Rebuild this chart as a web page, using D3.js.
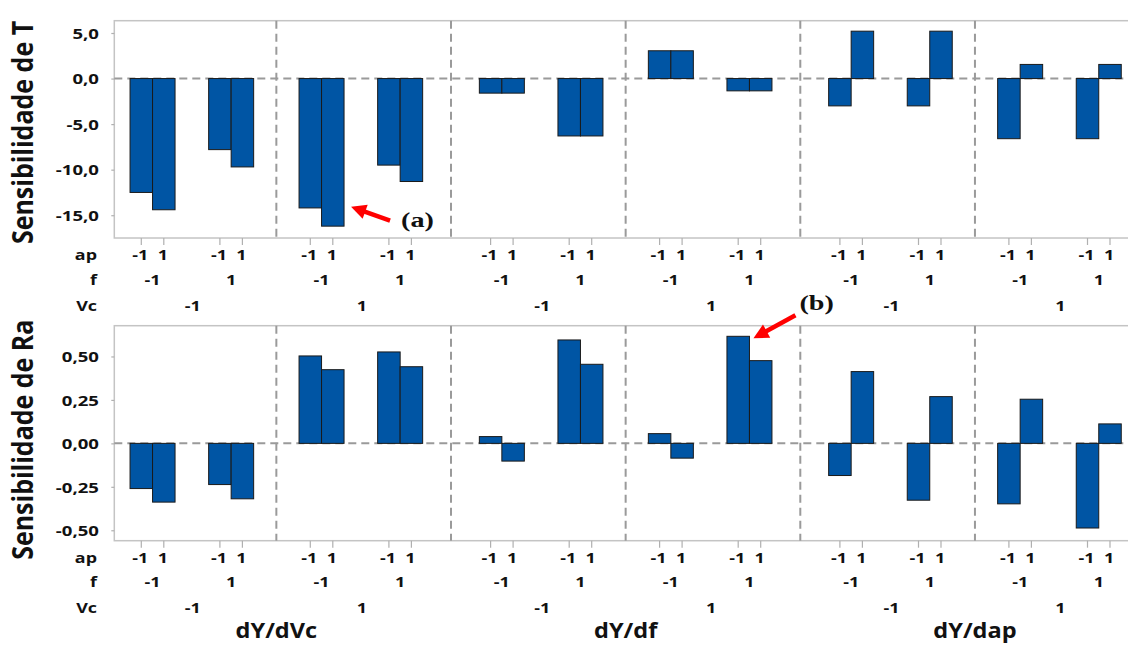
<!DOCTYPE html>
<html>
<head>
<meta charset="utf-8">
<script src="https://cdn.jsdelivr.net/npm/d3@7/dist/d3.min.js"></script>
<style>
  html, body { margin: 0; padding: 0; background: #fff; }
  svg { display: block; }
  text { font-family: "Open Sans", "Noto Sans", sans-serif; font-weight: 700; fill: #111; }
</style>
</head>
<body>
<svg id="chart" width="1128" height="648"></svg>
<script>
// Sensitivity of cutting temperature (T) and roughness (Ra) to each factor,
// evaluated at every corner of the Vc / f / ap design.
const derivatives = ["dY/dVc", "dY/df", "dY/dap"];
const levels = [-1, 1];                       // coded factor levels
const levelLabels = ["-1", "1"];

// order: derivative > Vc > f > ap
const sensT = [
  -12.5, -14.4,  -7.8,  -9.7,  -14.2, -16.2,  -9.5, -11.3,
   -1.6,  -1.6,  -6.3,  -6.3,    3.05,  3.05, -1.35, -1.35,
   -3.0,   5.2,  -3.0,   5.2,   -6.6,   1.55, -6.6,   1.55
];
const sensRa = [
  -0.26,  -0.338, -0.237, -0.319,   0.503, 0.424,  0.526, 0.441,
   0.039, -0.102,  0.595,  0.455,   0.056, -0.085, 0.616, 0.476,
  -0.185,  0.413, -0.327,  0.269,  -0.348, 0.254, -0.487, 0.112
];
const ticksT = [5, 0, -5, -10, -15];
const ticksRa = [0.5, 0.25, 0, -0.25, -0.5];

// Flat list of design points
const design = [];
derivatives.forEach(d => levels.forEach(vc => levels.forEach(f => levels.forEach(ap => {
  design.push({ d, vc, f, ap, i: design.length });
}))));

const svg = d3.select("#chart");
const SX = 1.28;          // horizontal stretch of the label lettering
const plotLeft = 114.3, plotRight = 1140;

// nested horizontal scales
const xDeriv = d3.scaleBand().domain(derivatives).range([101.7, 1149.6]).padding(0);
const xVc = d3.scalePoint().domain(levels).range([-84.5, 84.5]);
const xF = d3.scalePoint().domain(levels).range([-39.3, 39.3]);
const xAp = d3.scaleBand().domain(levels).range([-22.5, 22.5]).padding(0);
const dCenter = d => xDeriv(d) + xDeriv.bandwidth() / 2;
const vcCenter = p => dCenter(p.d) + xVc(p.vc);
const fCenter = p => vcCenter(p) + xF(p.f);
const barX = p => fCenter(p) + xAp(p.ap);
const barCenter = p => barX(p) + xAp.bandwidth() / 2;

const ptBR = d3.formatLocale({ decimal: ",", thousands: ".", grouping: [3], currency: ["R$", ""], minus: "-" });

const panels = [
  { values: sensT, top: 20.7, bottom: 238, domain: [-17.5, 6.35], ticks: ticksT,
    fmt: ptBR.format(".1f"), title: "Sensibilidade de T", titleY: 132.5 },
  { values: sensRa, top: 325.7, bottom: 540.7, domain: [-0.56, 0.677], ticks: ticksRa,
    fmt: ptBR.format(".2f"), title: "Sensibilidade de Ra", titleY: 439.7 }
];

function label(g, x, y, str, size, anchor, sx) {
  return g.append("text")
    .attr("transform", `translate(${x},${y}) scale(${sx || SX},1)`)
    .attr("text-anchor", anchor || "middle")
    .style("font-size", size + "px")
    .text(str);
}

panels.forEach(pn => {
  const g = svg.append("g");
  const y = d3.scaleLinear().domain(pn.domain).range([pn.bottom, pn.top]);
  pn.y = y;

  // frame
  g.append("rect")
    .attr("x", plotLeft).attr("y", pn.top)
    .attr("width", plotRight - plotLeft).attr("height", pn.bottom - pn.top)
    .attr("fill", "none").attr("stroke", "#c4c4c4").attr("stroke-width", 1.5);

  // y axis
  const ax = g.append("g").attr("transform", `translate(${plotLeft},0)`)
    .call(d3.axisLeft(y).tickValues(pn.ticks).tickSize(3).tickPadding(0).tickFormat(pn.fmt));
  ax.select(".domain").remove();
  ax.selectAll(".tick line").attr("stroke", "#b0b0b0").attr("stroke-width", 1.2);
  ax.attr("font-family", null).attr("font-size", null);
  ax.selectAll(".tick text")
    .attr("x", null).attr("dy", null)
    .attr("transform", `translate(-15.3,5.3) scale(1.24,1)`)
    .attr("text-anchor", "end")
    .style("font-size", "15px")
    .attr("fill", "#111");

  // dashed dividers between Vc levels and between derivatives
  const dividers = [];
  derivatives.forEach((d, k) => {
    dividers.push(dCenter(d));
    if (k > 0) dividers.push(xDeriv(d));
  });
  g.selectAll("line.div").data(dividers).join("line")
    .attr("class", "div")
    .attr("x1", d => d).attr("x2", d => d)
    .attr("y1", pn.top).attr("y2", pn.bottom)
    .attr("stroke", "#9a9a9a").attr("stroke-width", 2).attr("stroke-dasharray", "8,5");

  // zero reference
  g.append("line")
    .attr("x1", plotLeft).attr("x2", plotRight)
    .attr("y1", y(0)).attr("y2", y(0))
    .attr("stroke", "#9a9a9a").attr("stroke-width", 2).attr("stroke-dasharray", "8,5");

  // bars
  g.selectAll("rect.bar").data(design).join("rect")
    .attr("class", "bar")
    .attr("x", p => barX(p))
    .attr("width", xAp.bandwidth())
    .attr("y", p => y(Math.max(0, pn.values[p.i])))
    .attr("height", p => Math.abs(y(pn.values[p.i]) - y(0)))
    .attr("fill", "#0055a4").attr("stroke", "#1a1a1a").attr("stroke-width", 1);

  // x tick marks at each ap level
  g.selectAll("line.xt").data(design).join("line")
    .attr("class", "xt")
    .attr("x1", barCenter).attr("x2", barCenter)
    .attr("y1", pn.bottom).attr("y2", pn.bottom + 7)
    .attr("stroke", "#b0b0b0").attr("stroke-width", 1.2);

  // category rows
  const rowAp = pn.bottom + 22, rowF = pn.bottom + 46.5, rowVc = pn.bottom + 72.5;
  label(g, 97, rowAp, "ap", 14, "end");
  label(g, 97, rowF, "f", 14, "end");
  label(g, 97, rowVc, "Vc", 14, "end");
  design.forEach(p => {
    label(g, barCenter(p) - 1, rowAp, levelLabels[levels.indexOf(p.ap)], 14);
    if (p.ap === -1) label(g, fCenter(p), rowF, levelLabels[levels.indexOf(p.f)], 14);
    if (p.ap === -1 && p.f === -1) label(g, vcCenter(p) + 1, rowVc, levelLabels[levels.indexOf(p.vc)], 14);
  });

  // y title
  g.append("text")
    .attr("transform", `translate(33,${pn.titleY}) scale(1.12,1) rotate(-90)`)
    .attr("text-anchor", "middle")
    .style("font-size", "25px")
    .text(pn.title);
});

// derivative names under the lower panel
derivatives.forEach(d => label(svg, dCenter(d), 638, d, 22, "middle", 1.07));

// highlighted design points
function arrow(tail, tip) {
  const dx = tip[0] - tail[0], dy = tip[1] - tail[1];
  const len = Math.hypot(dx, dy), ux = dx / len, uy = dy / len;
  const head = 15, half = 7.5;
  const bx = tip[0] - ux * head, by = tip[1] - uy * head;
  svg.append("line")
    .attr("x1", tail[0]).attr("y1", tail[1]).attr("x2", bx + ux * 2).attr("y2", by + uy * 2)
    .attr("stroke", "#ff0000").attr("stroke-width", 4.5);
  svg.append("path")
    .attr("d", `M${tip[0]},${tip[1]}L${bx - uy * half},${by + ux * half}L${bx + uy * half},${by - ux * half}Z`)
    .attr("fill", "#ff0000");
}
function note(x, y, str) {
  svg.append("text")
    .attr("transform", `translate(${x},${y}) scale(${SX},1)`)
    .attr("text-anchor", "start")
    .style("font-family", "'Liberation Serif', 'Times New Roman', serif")
    .style("font-size", "22px")
    .text(str);
}

// (a): deepest temperature sensitivity, dY/dVc at Vc=1, f=-1, ap=1
const pA = design.find(p => p.d === "dY/dVc" && p.vc === 1 && p.f === -1 && p.ap === 1);
const aRight = barX(pA) + xAp.bandwidth();
const aBottom = panels[0].y(sensT[pA.i]);
const tipA = [aRight + 7, aBottom - 19.5];
arrow([tipA[0] + 39, tipA[1] + 14], tipA);
note(tipA[0] + 50, tipA[1] + 20, "(a)");

// (b): highest roughness sensitivity, dY/df at Vc=1, f=1, ap=-1
const pB = design.find(p => p.d === "dY/df" && p.vc === 1 && p.f === 1 && p.ap === -1);
const bRight = barX(pB) + xAp.bandwidth();
const bTop = panels[1].y(sensRa[pB.i]);
const tipB = [bRight + 4, bTop + 2];
arrow([tipB[0] + 42, tipB[1] - 23], tipB);
note(tipB[0] + 46, tipB[1] - 28, "(b)");
</script>
</body>
</html>
